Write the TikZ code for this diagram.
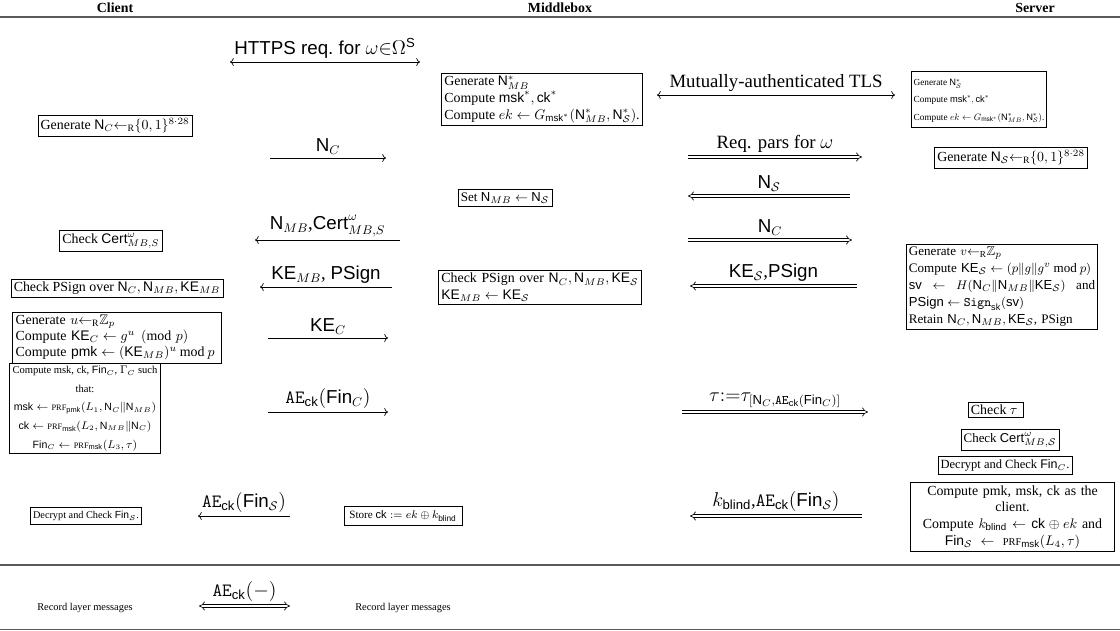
\documentclass[tikz,border=0pt]{standalone}
\usepackage{amsmath,amssymb}
\usepackage{graphicx}
\usepackage{fontspec}
\setmainfont{Liberation Serif}
\setsansfont{Liberation Sans}
\usetikzlibrary{arrows.meta}
\newcommand{\sfN}{\mathsf{N}}
\newcommand{\cS}{\mathcal{S}}
\newcommand{\prf}{\text{\fontsize{7.5}{8}\selectfont PRF}}
\newcommand{\prfs}{\text{\fontsize{6}{7}\selectfont PRF}}
\newcommand{\md}{\mathbin{\mathrm{mod}}}
\begin{document}
\begin{tikzpicture}[x=0.72pt,y=-0.72pt,
  box/.style={draw, line width=0.5pt, inner sep=2pt, font=\fontsize{10}{12}\selectfont, align=left},
  plain/.style={inner sep=1pt, font=\fontsize{7.5}{9}\selectfont},
  head/.style={inner sep=1pt, font=\fontsize{10}{12}\selectfont\bfseries},
  lab/.style={inner sep=1pt, font=\fontsize{13.5}{15}\selectfont},
  sarr/.style={line width=0.5pt},
  darr/.style={line width=0.45pt, double, double distance=1.8pt},
  sep/.style={line width=1pt, draw=black!65}]
\useasboundingbox (0,0) rectangle (1120,631);
% headers
\node[head] (hc) at (115,8) {Client};
\node[head] (hm) at (560,8) {Middlebox};
\node[head] (hs) at (1035,8) {Server};
\coordinate (l1a) at (0,17); \coordinate (l1b) at (1120,17);
\draw[sep] (l1a) -- (l1b);
\coordinate (l2a) at (0,565); \coordinate (l2b) at (1120,565);
\draw[sep] (l2a) -- (l2b);
\coordinate (l3a) at (0,629.5); \coordinate (l3b) at (1120,629.5);
\draw[sep] (l3a) -- (l3b);

% boxes
\node[box] (gnc) at (115,126) {Generate $\sfN_C{\leftarrow_{\mathrm{R}}}\{0,1\}^{8\cdot 28}$};
\node[box] (mb1) at (542,99.5) {Generate $\sfN^*_{MB}$\\Compute $\mathsf{msk}^*,\mathsf{ck}^*$\\Compute $ek\leftarrow G_{\mathsf{msk}^*}(\sfN^*_{MB},\sfN^*_{\cS})$.};
\node[box, inner sep=1.5pt] (sv1) at (979,99.5) {\scalebox{0.67}{\renewcommand{\arraystretch}{1.55}\begin{tabular}{@{}l@{}}Generate $\sfN^*_{\cS}$\\Compute $\mathsf{msk}^*,\mathsf{ck}^*$\\Compute $ek\leftarrow G_{\mathsf{msk}^*}(\sfN^*_{MB},\sfN^*_{\cS})$.\end{tabular}}};
\node[box] (gns) at (1011,158) {Generate $\sfN_{\cS}{\leftarrow_{\mathrm{R}}}\{0,1\}^{8\cdot 28}$};
\node[box, font=\fontsize{9.4}{11}\selectfont] (setn) at (505,198) {Set $\sfN_{MB}\leftarrow\sfN_{\cS}$};
\node[box] (ccert) at (111,241) {Check $\mathsf{Cert}^{\omega}_{MB,S}$};
\node[box] (cps) at (117,288) {Check PSign over $\sfN_C,\sfN_{MB},\mathsf{KE}_{MB}$};
\node[box, text width=142pt] (mps) at (540,287.5) {Check PSign over $\sfN_C,\sfN_{MB},\mathsf{KE}_{\cS}$\\$\mathsf{KE}_{MB}\leftarrow\mathsf{KE}_{\cS}$};
\node[box, text width=134pt, font=\fontsize{9.4}{12.2}\selectfont] (sgv) at (1002,286.5) {Generate $v{\leftarrow_{\mathrm{R}}}\mathbb{Z}_p$\\Compute $\mathsf{KE}_{\cS}\leftarrow(p\|g\|g^v \md p)$\\$\mathsf{sv}$\hfill$\leftarrow$\hfill$H(\sfN_C\|\sfN_{MB}\|\mathsf{KE}_{\cS})$\hfill and\\$\mathsf{PSign}\leftarrow\mathtt{Sign}_{\mathsf{sk}}(\mathsf{sv})$\\Retain $\sfN_C,\sfN_{MB},\mathsf{KE}_{\cS}$, PSign};
\node[box, text width=146pt, font=\fontsize{10}{11.7}\selectfont] (cgu) at (117,337.5) {Generate $u{\leftarrow_{\mathrm{R}}}\mathbb{Z}_p$\\Compute $\mathsf{KE}_C\leftarrow g^u \pmod p$\\Compute $\mathsf{pmk}\leftarrow(\mathsf{KE}_{MB})^u \md p$};
\node[box, anchor=north, minimum width=108pt, inner sep=2pt, align=center, font=\fontsize{7.6}{13.4}\selectfont] (cmsk) at (85,363) {Compute msk, ck, $\mathsf{Fin}_C$, $\Gamma_C$ such\\that:\\$\mathsf{msk}\leftarrow\prfs_{\mathsf{pmk}}(L_1,\sfN_C\|\sfN_{MB})$\\$\mathsf{ck}\leftarrow\prfs_{\mathsf{msk}}(L_2,\sfN_{MB}\|\sfN_C)$\\$\mathsf{Fin}_C\leftarrow\prfs_{\mathsf{msk}}(L_3,\tau)$};
\node[box] (ctau) at (996,410) {Check $\tau$\ };
\node[box, font=\fontsize{9.3}{11}\selectfont] (scert) at (1010,440) {Check $\mathsf{Cert}^{\omega}_{MB,\cS}$};
\node[box, font=\fontsize{9}{11}\selectfont] (sdec) at (1005,465.5) {Decrypt and Check $\mathsf{Fin}_C$.};
\node[box, text width=143pt, align=center] (spmk) at (1012.5,517) {Compute pmk, msk, ck as the\\client.\\Compute $k_{\mathsf{blind}}\leftarrow\mathsf{ck}\oplus ek$ and\\$\mathsf{Fin}_{\cS}\leftarrow\prf_{\mathsf{msk}}(L_4,\tau)$};
\node[box, font=\fontsize{7.4}{9}\selectfont, inner ysep=2.5pt] (cdec) at (86,516) {Decrypt and Check $\mathsf{Fin}_{\cS}$.};
\node[box, font=\fontsize{8}{10}\selectfont, inner xsep=4pt, inner ysep=3pt] (store) at (403,516) {Store $\mathsf{ck}:=ek\oplus k_{\mathsf{blind}}$};
\node[plain] (rc) at (85,608) {Record layer messages};
\node[plain] (rm) at (403,608) {Record layer messages};

% arrows
\coordinate (a1s) at (230,62); \coordinate (a1e) at (420,62);
\draw[sarr,{To}-{To}] (a1s) -- node[lab,above=1pt] (t1) {\sffamily HTTPS req.\ for $\omega{\in}\Omega^{\mathsf{S}}$} (a1e);
\coordinate (a2s) at (657,95); \coordinate (a2e) at (895,95);
\draw[sarr,{To}-{To}] (a2s) -- node[lab,above=1pt] (t2) {Mutually-authenticated TLS} (a2e);
\coordinate (a3s) at (270,158); \coordinate (a3e) at (386,158);
\draw[sarr,-{To}] (a3s) -- node[lab,above=1pt] (t3) {$\sfN_C$} (a3e);
\coordinate (a4s) at (688,157); \coordinate (a4e) at (862,157);
\draw[darr,-{Implies}] (a4s) -- node[lab,above=2pt] (t4) {Req. pars for $\omega$} (a4e);
\coordinate (a5s) at (850,196); \coordinate (a5e) at (688,196);
\draw[darr,-{Implies}] (a5s) -- node[lab,above=2pt] (t5) {$\sfN_{\cS}$} (a5e);
\coordinate (a6s) at (400,240); \coordinate (a6e) at (255,240);
\draw[sarr,-{To}] (a6s) -- node[lab,above=1pt] (t6) {$\sfN_{MB}$,$\mathsf{Cert}^{\omega}_{MB,S}$} (a6e);
\coordinate (a7s) at (688,240); \coordinate (a7e) at (852,240);
\draw[darr,-{Implies}] (a7s) -- node[lab,above=2pt] (t7) {$\sfN_C$} (a7e);
\coordinate (a8s) at (392,287); \coordinate (a8e) at (260,287);
\draw[sarr,-{To}] (a8s) -- node[lab,above=1pt] (t8) {$\mathsf{KE}_{MB}$, \sffamily PSign} (a8e);
\coordinate (a9s) at (857,286); \coordinate (a9e) at (690,286);
\draw[darr,-{Implies}] (a9s) -- node[lab,above=2pt] (t9) {$\mathsf{KE}_{\cS}$,\sffamily PSign} (a9e);
\coordinate (a10s) at (268,338); \coordinate (a10e) at (388,338);
\draw[sarr,-{To}] (a10s) -- node[lab,above=1pt] (t10) {$\mathsf{KE}_C$} (a10e);
\coordinate (a11s) at (268,412); \coordinate (a11e) at (388,412);
\draw[sarr,-{To}] (a11s) -- node[lab,above=1pt] (t11) {$\mathtt{AE}_{\mathsf{ck}}(\mathsf{Fin}_C)$} (a11e);
\coordinate (a12s) at (682,412); \coordinate (a12e) at (868,412);
\draw[darr,-{Implies}] (a12s) -- node[lab,above=2pt] (t12) {$\tau{:=}\tau_{[\sfN_C,\mathtt{AE}_{\mathsf{ck}}(\mathsf{Fin}_C)]}$} (a12e);
\coordinate (a13s) at (290,516); \coordinate (a13e) at (198,516);
\draw[sarr,-{To}] (a13s) -- node[lab,above=1pt] (t13) {$\mathtt{AE}_{\mathsf{ck}}(\mathsf{Fin}_{\cS})$} (a13e);
\coordinate (a14s) at (862,516); \coordinate (a14e) at (690,516);
\draw[darr,-{Implies}] (a14s) -- node[lab,above=2pt] (t14) {$k_{\mathsf{blind}}$,$\mathtt{AE}_{\mathsf{ck}}(\mathsf{Fin}_{\cS})$} (a14e);
\coordinate (a15s) at (199,606); \coordinate (a15e) at (290,606);
\draw[darr,{Implies}-{Implies}] (a15s) -- node[lab,above=2pt] (t15) {$\mathtt{AE}_{\mathsf{ck}}(-)$} (a15e);
\end{tikzpicture}
\end{document}
